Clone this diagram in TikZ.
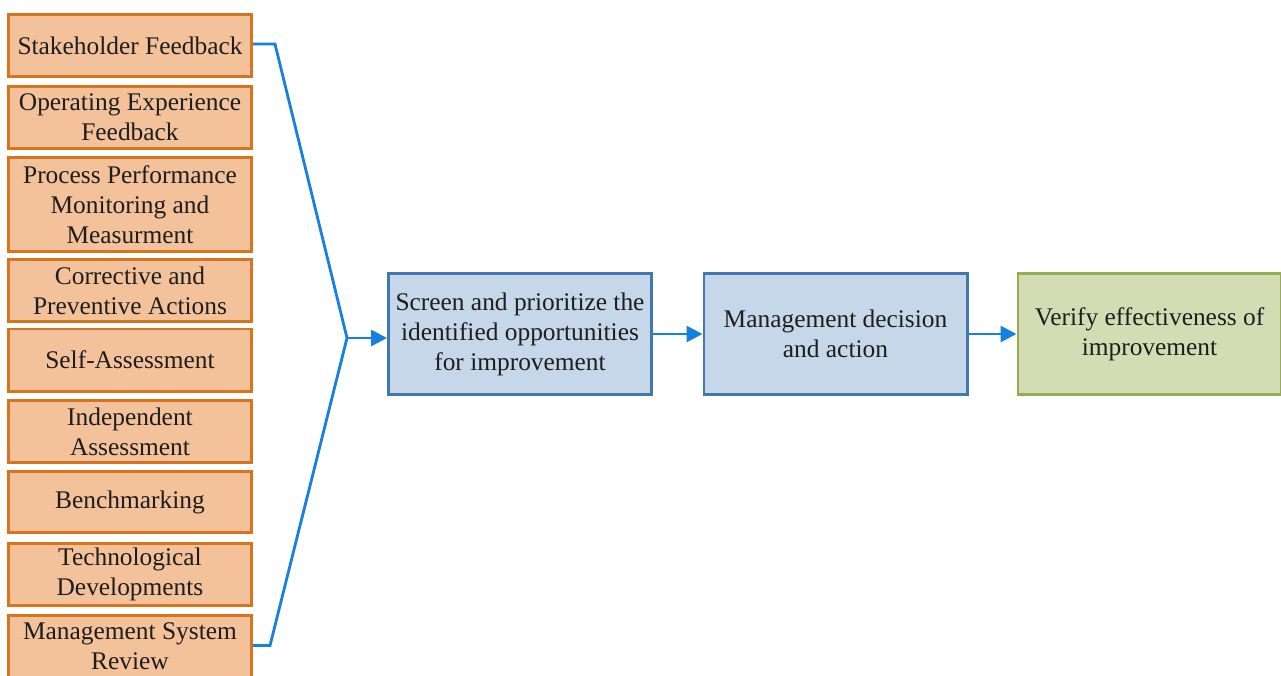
\documentclass[tikz,border=0pt]{standalone}
\usepackage{fontspec}
\setmainfont{Liberation Serif}
\usetikzlibrary{arrows.meta}
\definecolor{srcfill}{HTML}{F3C19A}
\definecolor{srcdraw}{HTML}{D8731E}
\definecolor{stepfill}{HTML}{C5D7E9}
\definecolor{stepdraw}{HTML}{4178AE}
\definecolor{endfill}{HTML}{D4DCB3}
\definecolor{enddraw}{HTML}{97AA56}
\definecolor{linkcol}{HTML}{1480E0}
\definecolor{txt}{HTML}{1E1E1E}
\tikzset{
  basebox/.style={rectangle, align=center, text=txt, inner sep=0pt,
    font=\fontsize{25.4}{30}\selectfont},
  source/.style={basebox, fill=srcfill, draw=srcdraw, line width=2.7pt,
    minimum width=243.3pt},
  stagebox/.style={basebox, fill=stepfill, draw=stepdraw, line width=2.7pt,
    minimum width=263.3pt, minimum height=121.3pt},
  finalbox/.style={basebox, fill=endfill, draw=enddraw, line width=2.7pt,
    minimum width=263.3pt, minimum height=121.3pt},
  link/.style={draw=linkcol, line width=2.8pt},
  arrowlink/.style={link, -{Triangle[length=16pt,width=16pt]}}
}
\begin{document}
\begin{tikzpicture}[x=1pt,y=-1pt]
\path[use as bounding box, clip] (0,0) rectangle (1281,675);
\fill[white] (0,0) rectangle (1281,675);

% input sources (outer edges: x 7..253)
\node[source, minimum height=62.3pt] (s1) at (130,45.5) {Stakeholder Feedback};
\node[source, minimum height=62.3pt] (s2) at (130,117.5) {Operating Experience\\Feedback};
\node[source, minimum height=94.3pt] (s3) at (130,204.5) {Process Performance\\Monitoring and\\Measurment};
\node[source, minimum height=62.3pt] (s4) at (130,290.5) {Corrective and\\Preventive Actions};
\node[source, minimum height=62.3pt] (s5) at (130,360) {Self-Assessment};
\node[source, minimum height=62.3pt] (s6) at (130,431.5) {Independent\\Assessment};
\node[source, minimum height=61.3pt] (s7) at (130,502) {Benchmarking};
\node[source, minimum height=62.3pt] (s8) at (130,574.5) {Technological\\Developments};
\node[source, minimum height=62.3pt] (s9) at (130,646.5) {Management System\\Review};

% process chain
\node[stagebox] (screen) at (520,334) {Screen and prioritize the\\identified opportunities\\for improvement};
\node[stagebox] (decide) at (835.5,334) {Management decision\\and action};
\node[finalbox] (verify) at (1149.5,334) {Verify effectiveness of\\improvement};

% bracket gathering the sources
\coordinate (join) at (347,338);
\draw[link, line join=miter] ([yshift=1.5pt]s1.east) -- ++(22,0) -- (join);
\draw[link, line join=miter] ([yshift=1pt]s9.east) -- ++(17,0) -- (join);

% flow arrows
\draw[arrowlink] (join) -- (join -| screen.west);
\draw[arrowlink] (screen.east) -- (decide.west);
\draw[arrowlink] (decide.east) -- (verify.west);
\end{tikzpicture}
\end{document}
